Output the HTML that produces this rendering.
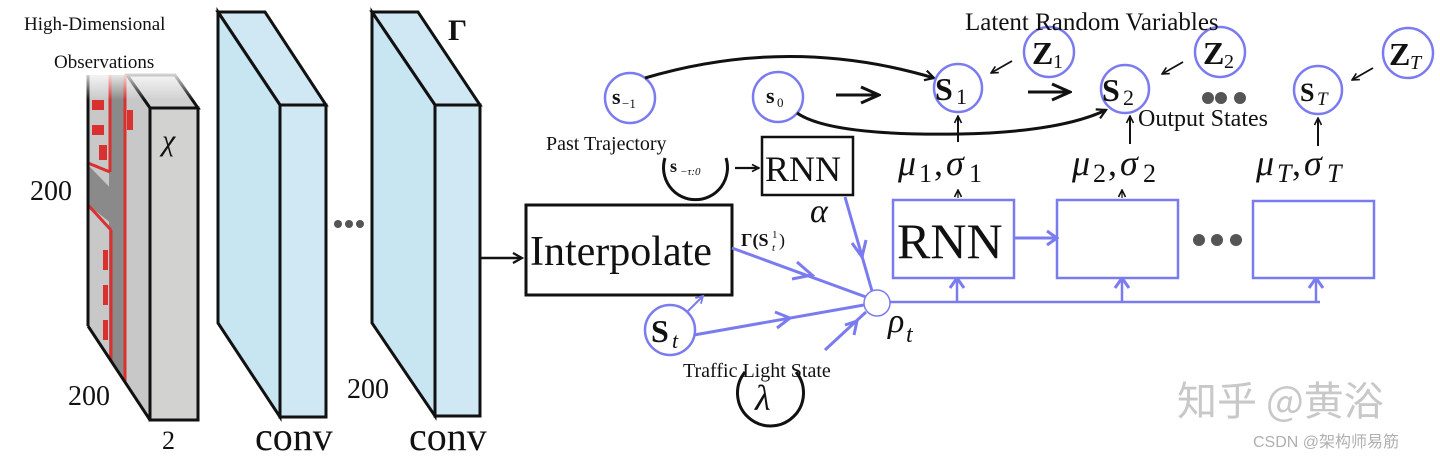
<!DOCTYPE html>
<html><head><meta charset="utf-8"><style>
html,body{margin:0;padding:0;background:#fff;}
svg{display:block;}
text{font-family:"Liberation Serif","DejaVu Serif",serif;fill:#111;}
</style></head><body>
<svg width="1440" height="459" viewBox="0 0 1440 459" xmlns="http://www.w3.org/2000/svg">
<defs>
<marker id="ab" markerWidth="12" markerHeight="12" refX="10" refY="6" orient="auto" markerUnits="userSpaceOnUse"><path d="M1,1 L10,6 L1,11" fill="none" stroke="#111" stroke-width="2.2"/></marker>
<marker id="abs" markerWidth="9" markerHeight="9" refX="8" refY="4.5" orient="auto" markerUnits="userSpaceOnUse"><path d="M1,1 L8,4.5 L1,8" fill="none" stroke="#111" stroke-width="1.6"/></marker>
<marker id="abl" markerWidth="22" markerHeight="20" refX="20" refY="10" orient="auto" markerUnits="userSpaceOnUse"><path d="M2,2 L20,10 L2,18" fill="none" stroke="#111" stroke-width="3"/></marker>
<marker id="bb" markerWidth="18" markerHeight="18" refX="9" refY="9" orient="auto" markerUnits="userSpaceOnUse"><path d="M2,2 L12,9 L2,16" fill="none" stroke="#7b7bf0" stroke-width="3"/></marker>
<marker id="bs" markerWidth="10" markerHeight="10" refX="8" refY="5" orient="auto" markerUnits="userSpaceOnUse"><path d="M1,1 L8,5 L1,9" fill="none" stroke="#7b7bf0" stroke-width="1.8"/></marker>
<clipPath id="side"><polygon points="88,75 127,75 150,108 150,420 88,326"/></clipPath>
<linearGradient id="fade" x1="0" y1="0" x2="0" y2="1"><stop offset="0" stop-color="#fff" stop-opacity="0.95"/><stop offset="1" stop-color="#fff" stop-opacity="0"/></linearGradient>
</defs>

<polygon points="127,75 175,75 198,108 150,108" fill="#d0d0d0" stroke="#111" stroke-width="3"/>
<polygon points="88,75 127,75 150,108 150,420 88,326" fill="#c8c8c8"/>
<g clip-path="url(#side)">
<rect x="109" y="70" width="15" height="360" fill="#8a8a8a"/>
<polygon points="88,165 122,200 122,232 88,205" fill="#8a8a8a"/>
<line x1="125" y1="75" x2="125" y2="420" stroke="#d93030" stroke-width="3"/>
<line x1="110" y1="75" x2="110" y2="172" stroke="#d93030" stroke-width="3"/>
<line x1="88" y1="163" x2="110" y2="172" stroke="#d93030" stroke-width="3"/>
<line x1="88" y1="205" x2="111" y2="230" stroke="#d93030" stroke-width="3"/>
<line x1="111" y1="230" x2="111" y2="420" stroke="#d93030" stroke-width="3"/>
<rect x="92" y="100" width="12" height="10" fill="#d93030"/><rect x="92" y="125" width="12" height="10" fill="#d93030"/>
<rect x="99" y="145" width="8" height="15" fill="#d93030"/><rect x="127" y="110" width="6" height="20" fill="#d93030"/>
<rect x="103" y="250" width="5" height="20" fill="#d93030"/><rect x="103" y="285" width="5" height="20" fill="#d93030"/><rect x="103" y="320" width="5" height="20" fill="#d93030"/>
</g>
<path d="M88,326 L88,75 M127,75 L150,108 M88,326 L150,420" fill="none" stroke="#111" stroke-width="3"/>
<rect x="84" y="70" width="120" height="30" fill="url(#fade)"/>
<rect x="150" y="108" width="48" height="312" fill="#d2d2d0" stroke="#111" stroke-width="3"/>
<text x="162" y="150" font-size="30" font-style="italic">χ</text>
<text x="24" y="30" font-size="19">High-Dimensional</text>
<text x="54" y="68" font-size="19">Observations</text>
<text x="30" y="200" font-size="28">200</text>
<text x="68" y="405" font-size="28">200</text>
<text x="162" y="449" font-size="26">2</text>

<polygon points="218,12 265,12 326,105 280,105" fill="#cfe8f3" stroke="#111" stroke-width="3"/>
<polygon points="218,12 280,105 280,417 218,323" fill="#c8e5f2" stroke="#111" stroke-width="3"/>
<rect x="280" y="105" width="46" height="312" fill="#cfe8f3" stroke="#111" stroke-width="3"/>
<text x="255" y="450" font-size="40">conv</text>
<circle cx="338" cy="224" r="4" fill="#555"/><circle cx="349" cy="224" r="4" fill="#555"/><circle cx="360" cy="224" r="4" fill="#555"/>
<polygon points="372,12 418,12 480,105 435,105" fill="#cfe8f3" stroke="#111" stroke-width="3"/>
<polygon points="372,12 435,105 435,416 372,323" fill="#c8e5f2" stroke="#111" stroke-width="3"/>
<rect x="435" y="105" width="45" height="311" fill="#cfe8f3" stroke="#111" stroke-width="3"/>
<text x="448" y="40" font-size="30" font-weight="bold">Γ</text>
<text x="347" y="398" font-size="28">200</text>
<text x="409" y="450" font-size="40">conv</text>
<line x1="481" y1="258" x2="522" y2="258" stroke="#111" stroke-width="2.5" marker-end="url(#ab)"/>

<rect x="526" y="205" width="206" height="90" fill="#fff" stroke="#111" stroke-width="3"/>
<text x="530" y="265" font-size="42">Interpolate</text>
<text x="741" y="246" font-size="18" font-weight="bold">Γ(S</text>
<text x="772" y="238" font-size="11">1</text>
<text x="772" y="251" font-size="11" font-style="italic">t</text>
<text x="779" y="246" font-size="18">)</text>

<circle cx="630" cy="98" r="25" fill="#fff" stroke="#7b7bf0" stroke-width="2.5"/>
<text x="612" y="104" font-size="22" font-weight="bold">s</text>
<text x="622" y="108" font-size="13">−1</text>
<circle cx="778" cy="97" r="25" fill="#fff" stroke="#7b7bf0" stroke-width="2.5"/>
<text x="766" y="103" font-size="22" font-weight="bold">s</text>
<text x="777" y="107" font-size="13">0</text>
<path d="M645,78 Q790,35 934,78" fill="none" stroke="#111" stroke-width="3" marker-end="url(#ab)"/>
<path d="M797,113 Q830,136 960,134 Q1060,132 1106,110" fill="none" stroke="#111" stroke-width="3" marker-end="url(#ab)"/>
<text x="546" y="150" font-size="20">Past Trajectory</text>
<path d="M665,158 A32,32 0 1 0 726,158" fill="none" stroke="#111" stroke-width="3"/>
<text x="670" y="172" font-size="18" font-weight="bold">s</text>
<text x="680" y="175" font-size="11" font-style="italic">−τ:0</text>
<line x1="735" y1="168" x2="759" y2="168" stroke="#111" stroke-width="2.2" marker-end="url(#abs)"/>
<rect x="762" y="137" width="91" height="58" fill="#fff" stroke="#111" stroke-width="2.5"/>
<text x="765" y="181" font-size="36">RNN</text>
<text x="810" y="222" font-size="34" font-style="italic">α</text>

<line x1="845" y1="197" x2="872" y2="291" stroke="#7b7bf0" stroke-width="3"/>
<path d="M852,243 L862,257 L866,240" fill="none" stroke="#7b7bf0" stroke-width="3"/>
<line x1="732" y1="248" x2="866" y2="297" stroke="#7b7bf0" stroke-width="3"/>
<path d="M797,262 L812,275 L792,279" fill="none" stroke="#7b7bf0" stroke-width="3"/>
<line x1="694" y1="335" x2="864" y2="305" stroke="#7b7bf0" stroke-width="3"/>
<path d="M775,312 L790,318 L777,328" fill="none" stroke="#7b7bf0" stroke-width="3"/>
<line x1="825" y1="350" x2="866" y2="312" stroke="#7b7bf0" stroke-width="3"/>
<path d="M845,325 L857,321 L854,335" fill="none" stroke="#7b7bf0" stroke-width="3"/>
<line x1="687" y1="312" x2="703" y2="296" stroke="#7b7bf0" stroke-width="2" marker-end="url(#bs)"/>
<circle cx="670" cy="330" r="25" fill="#fff" stroke="#7b7bf0" stroke-width="2.5"/>
<text x="651" y="342" font-size="32" font-weight="bold">S</text>
<text x="672" y="348" font-size="22" font-style="italic">t</text>
<path d="M745,372 A33,33 0 1 0 796,372" fill="none" stroke="#111" stroke-width="3"/>
<text x="755" y="410" font-size="36" font-style="italic">λ</text>
<text x="683" y="377" font-size="20">Traffic Light State</text>
<line x1="890" y1="302" x2="1320" y2="302" stroke="#7b7bf0" stroke-width="2.5"/>
<circle cx="877" cy="303" r="13" fill="#fff" stroke="#7b7bf0" stroke-width="1.5"/>
<text x="888" y="332" font-size="34" font-style="italic">ρ</text>
<text x="906" y="342" font-size="24" font-style="italic">t</text>
<line x1="957" y1="302" x2="957" y2="281" stroke="#7b7bf0" stroke-width="2.5" marker-end="url(#bb)"/>
<line x1="1122" y1="302" x2="1122" y2="281" stroke="#7b7bf0" stroke-width="2.5" marker-end="url(#bb)"/>
<line x1="1316" y1="302" x2="1316" y2="281" stroke="#7b7bf0" stroke-width="2.5" marker-end="url(#bb)"/>

<rect x="893" y="200" width="121" height="78" fill="#fff" stroke="#7b7bf0" stroke-width="2.5"/>
<text x="897" y="258" font-size="50">RNN</text>
<rect x="1057" y="200" width="121" height="78" fill="#fff" stroke="#7b7bf0" stroke-width="2.5"/>
<rect x="1253" y="201" width="121" height="77" fill="#fff" stroke="#7b7bf0" stroke-width="2.5"/>
<line x1="1014" y1="238" x2="1054" y2="238" stroke="#7b7bf0" stroke-width="3" marker-end="url(#bb)"/>
<circle cx="1199" cy="240" r="6" fill="#555"/><circle cx="1217" cy="240" r="6" fill="#555"/><circle cx="1236" cy="240" r="6" fill="#555"/>
<text x="898" y="175" font-size="36" font-style="italic">μ</text><text x="919" y="182" font-size="26">1</text><text x="934" y="175" font-size="36">,</text>
<text x="946" y="175" font-size="36" font-style="italic">σ</text><text x="969" y="182" font-size="26">1</text>
<text x="1072" y="175" font-size="36" font-style="italic">μ</text><text x="1093" y="182" font-size="26">2</text><text x="1108" y="175" font-size="36">,</text>
<text x="1120" y="175" font-size="36" font-style="italic">σ</text><text x="1143" y="182" font-size="26">2</text>
<text x="1256" y="175" font-size="36" font-style="italic">μ</text><text x="1277" y="182" font-size="26" font-style="italic">T</text><text x="1292" y="175" font-size="36">,</text>
<text x="1304" y="175" font-size="36" font-style="italic">σ</text><text x="1327" y="182" font-size="26" font-style="italic">T</text>
<line x1="958" y1="198" x2="958" y2="190" stroke="#111" stroke-width="1.2" marker-end="url(#abs)"/>
<line x1="1122" y1="198" x2="1122" y2="190" stroke="#111" stroke-width="1.2" marker-end="url(#abs)"/>
<line x1="958" y1="142" x2="958" y2="116" stroke="#111" stroke-width="2" marker-end="url(#abs)"/>
<line x1="1130" y1="144" x2="1130" y2="116" stroke="#111" stroke-width="2" marker-end="url(#abs)"/>
<line x1="1318" y1="146" x2="1318" y2="118" stroke="#111" stroke-width="2" marker-end="url(#abs)"/>

<circle cx="958" cy="88" r="24" fill="#fff" stroke="#7b7bf0" stroke-width="2.5"/>
<text x="935" y="100" font-size="32" font-weight="bold">S</text><text x="956" y="104" font-size="22">1</text>
<circle cx="1125" cy="89" r="24" fill="#fff" stroke="#7b7bf0" stroke-width="2.5"/>
<text x="1102" y="101" font-size="32" font-weight="bold">S</text><text x="1123" y="105" font-size="22">2</text>
<circle cx="1318" cy="90" r="24" fill="#fff" stroke="#7b7bf0" stroke-width="2.5"/>
<text x="1300" y="101" font-size="26" font-weight="bold">S</text><text x="1317" y="105" font-size="19" font-style="italic">T</text>
<circle cx="1049" cy="52" r="25" fill="#fff" stroke="#7b7bf0" stroke-width="2.5"/>
<text x="1032" y="64" font-size="32" font-weight="bold">Z</text><text x="1053" y="68" font-size="20">1</text>
<circle cx="1220" cy="52" r="25" fill="#fff" stroke="#7b7bf0" stroke-width="2.5"/>
<text x="1203" y="64" font-size="32" font-weight="bold">Z</text><text x="1224" y="68" font-size="20">2</text>
<circle cx="1408" cy="53" r="25" fill="#fff" stroke="#7b7bf0" stroke-width="2.5"/>
<text x="1389" y="65" font-size="32" font-weight="bold">Z</text><text x="1410" y="69" font-size="20" font-style="italic">T</text>
<line x1="1012" y1="61" x2="991" y2="73" stroke="#111" stroke-width="1.8" marker-end="url(#abs)"/>
<line x1="1183" y1="62" x2="1162" y2="74" stroke="#111" stroke-width="1.8" marker-end="url(#abs)"/>
<line x1="1373" y1="68" x2="1352" y2="80" stroke="#111" stroke-width="1.8" marker-end="url(#abs)"/>
<line x1="836" y1="95" x2="879" y2="95" stroke="#111" stroke-width="3" marker-end="url(#abl)"/>
<line x1="1028" y1="92" x2="1070" y2="92" stroke="#111" stroke-width="3" marker-end="url(#abl)"/>
<circle cx="1208" cy="98" r="6" fill="#555"/><circle cx="1221" cy="98" r="6" fill="#555"/><circle cx="1240" cy="98" r="6" fill="#555"/>
<text x="965" y="30" font-size="25">Latent Random Variables</text>
<text x="1138" y="126" font-size="24">Output States</text>

<text x="1177" y="415" font-size="40" style="fill:#c8c8c8;font-family:'Noto Sans CJK SC',sans-serif">知乎 @黄浴</text>
<text x="1253" y="447" font-size="16" style="fill:#b0b0b0;font-family:'Liberation Sans','Noto Sans CJK SC',sans-serif">CSDN @架构师易筋</text>
</svg>
</body></html>
